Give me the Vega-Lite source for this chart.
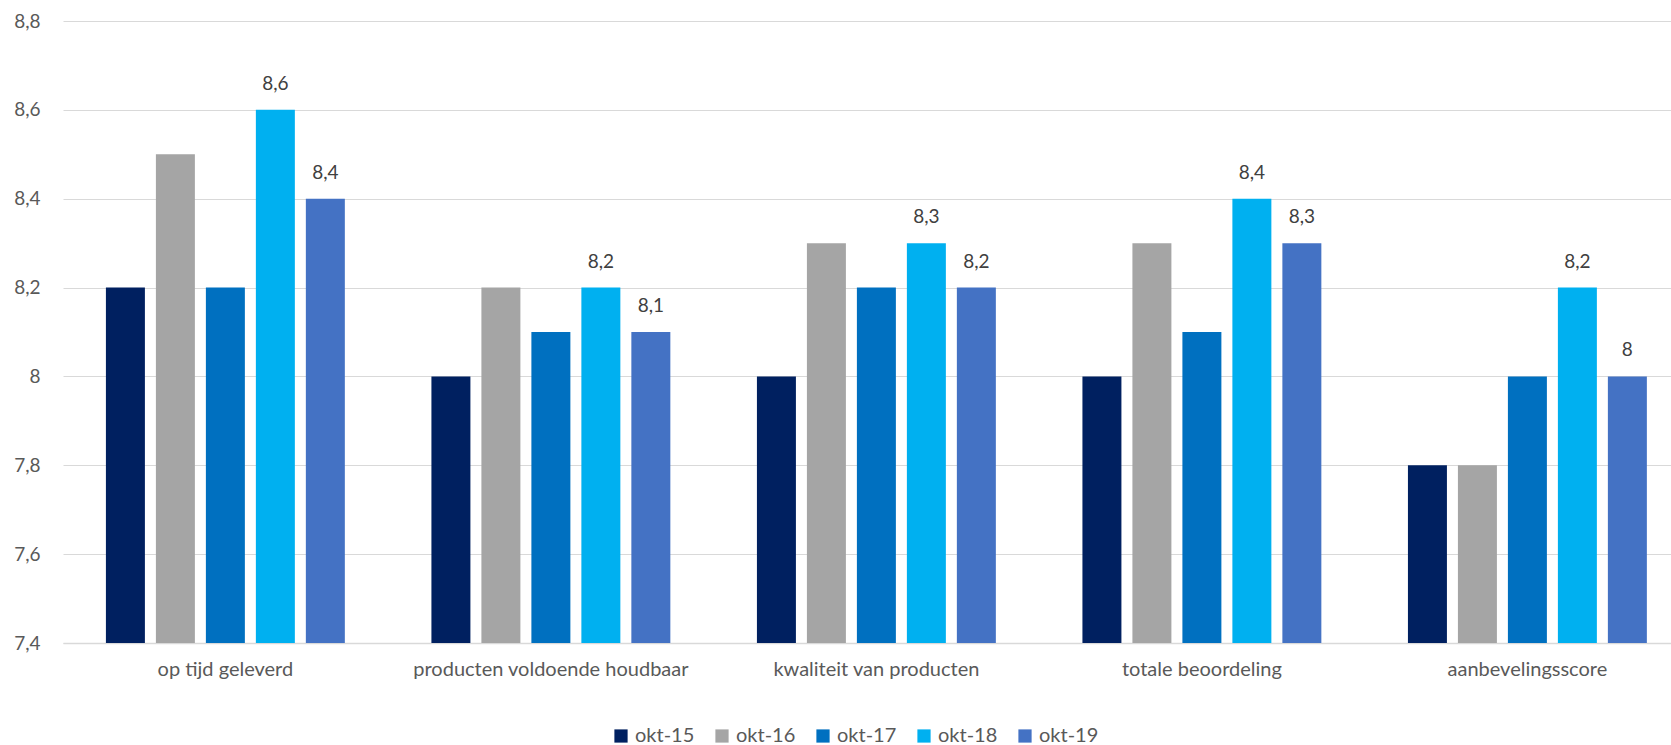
{
  "$schema": "https://vega.github.io/schema/vega-lite/v6.json",
  "width": 1608,
  "height": 622,
  "autosize": {"type": "none"},
  "padding": {"left": 63, "top": 21, "right": 0, "bottom": 102},
  "background": "white",
  "config": {
    "font": "Lato",
    "view": {"stroke": null},
    "locale": {"number": {"decimal": ",", "thousands": ".", "grouping": [3], "currency": ["€", ""]}},
    "axis": {"labelFont": "Lato", "labelColor": "#595959", "labelFontSize": 19}
  },
  "data": {
    "values": [
      {"categorie": "op tijd geleverd", "periode": "okt-15", "score": 8.2},
      {"categorie": "op tijd geleverd", "periode": "okt-16", "score": 8.5},
      {"categorie": "op tijd geleverd", "periode": "okt-17", "score": 8.2},
      {"categorie": "op tijd geleverd", "periode": "okt-18", "score": 8.6},
      {"categorie": "op tijd geleverd", "periode": "okt-19", "score": 8.4},
      {"categorie": "producten voldoende houdbaar", "periode": "okt-15", "score": 8.0},
      {"categorie": "producten voldoende houdbaar", "periode": "okt-16", "score": 8.2},
      {"categorie": "producten voldoende houdbaar", "periode": "okt-17", "score": 8.1},
      {"categorie": "producten voldoende houdbaar", "periode": "okt-18", "score": 8.2},
      {"categorie": "producten voldoende houdbaar", "periode": "okt-19", "score": 8.1},
      {"categorie": "kwaliteit van producten", "periode": "okt-15", "score": 8.0},
      {"categorie": "kwaliteit van producten", "periode": "okt-16", "score": 8.3},
      {"categorie": "kwaliteit van producten", "periode": "okt-17", "score": 8.2},
      {"categorie": "kwaliteit van producten", "periode": "okt-18", "score": 8.3},
      {"categorie": "kwaliteit van producten", "periode": "okt-19", "score": 8.2},
      {"categorie": "totale beoordeling", "periode": "okt-15", "score": 8.0},
      {"categorie": "totale beoordeling", "periode": "okt-16", "score": 8.3},
      {"categorie": "totale beoordeling", "periode": "okt-17", "score": 8.1},
      {"categorie": "totale beoordeling", "periode": "okt-18", "score": 8.4},
      {"categorie": "totale beoordeling", "periode": "okt-19", "score": 8.3},
      {"categorie": "aanbevelingsscore", "periode": "okt-15", "score": 7.8},
      {"categorie": "aanbevelingsscore", "periode": "okt-16", "score": 7.8},
      {"categorie": "aanbevelingsscore", "periode": "okt-17", "score": 8.0},
      {"categorie": "aanbevelingsscore", "periode": "okt-18", "score": 8.2},
      {"categorie": "aanbevelingsscore", "periode": "okt-19", "score": 8.0}
    ]
  },
  "encoding": {
    "x": {
      "field": "categorie", "type": "nominal", "sort": null, "title": null,
      "scale": {"paddingInner": 0.266, "paddingOuter": 0.103, "align": 0.64},
      "axis": {"labelAngle": 0, "ticks": false, "domain": true, "domainColor": "#D9D9D9", "domainWidth": 1.5, "labelPadding": 16, "grid": false, "labelLimit": 0, "labelFontSize": 20}
    },
    "xOffset": {"field": "periode", "type": "nominal", "scale": {"paddingInner": 0.22, "paddingOuter": 0}},
    "y": {
      "field": "score", "type": "quantitative", "title": null,
      "scale": {"domain": [7.4, 8.8], "zero": false, "nice": false},
      "axis": {
        "values": [7.4, 7.6, 7.8, 8.0, 8.2, 8.4, 8.6, 8.8],
        "format": "~g",
        "domain": false, "ticks": false, "grid": true, "gridColor": "#D9D9D9", "gridWidth": 1.2,
        "labelPadding": 23
      }
    }
  },
  "layer": [
    {
      "mark": {"type": "bar"},
      "encoding": {
        "y2": {"datum": 7.4},
        "color": {
          "field": "periode", "type": "nominal", "title": null,
          "scale": {"domain": ["okt-15", "okt-16", "okt-17", "okt-18", "okt-19"], "range": ["#002060", "#A5A5A5", "#0070C0", "#00B0F0", "#4472C4"]},
          "legend": {
            "orient": "none", "legendX": 548, "legendY": 705,
            "direction": "horizontal", "symbolType": "square", "symbolSize": 175,
            "labelFontSize": 20, "labelColor": "#595959", "labelFont": "Lato", "columnPadding": 17, "symbolStrokeWidth": 0,
            "labelOffset": 4, "padding": 0
          }
        }
      }
    },
    {
      "transform": [{"filter": "datum.periode == 'okt-18' || datum.periode == 'okt-19'"}],
      "mark": {"type": "text", "baseline": "bottom", "dy": -16, "fontSize": 19, "color": "#404040", "font": "Lato"},
      "encoding": {
        "text": {"field": "score", "type": "quantitative", "format": "~g"}
      }
    }
  ]
}
